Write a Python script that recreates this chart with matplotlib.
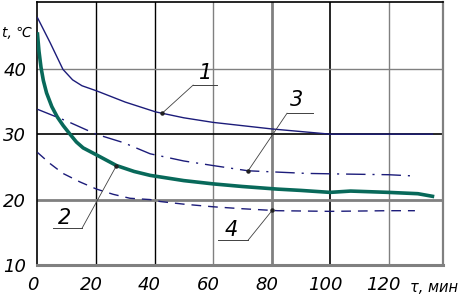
import numpy as np
import matplotlib
matplotlib.use("Agg")
import matplotlib.pyplot as plt
from matplotlib import transforms

# ---- data ----
t1 = [0, 4.3, 8.7, 12, 15.2, 20.3, 30, 40.4, 50, 60, 70, 80, 90, 100, 110, 120, 135]
v1 = [47.8, 44.0, 39.9, 38.3, 37.4, 36.6, 34.9, 33.4, 32.5, 31.8, 31.3, 30.8, 30.4, 30.0, 30.0, 30.0, 30.0]

t2 = [0, 0.5, 1.2, 2.0, 3.1, 4.9, 6.8, 8.8, 11.1, 13.3, 15.6, 20.3, 27, 33, 38.5, 50, 60, 70, 82, 90, 100, 107, 120, 130, 135]
v2 = [45.3, 42.7, 40.2, 38.2, 36.3, 34.2, 32.6, 31.3, 30.0, 28.8, 27.9, 26.8, 25.2, 24.3, 23.7, 22.9, 22.4, 22.0, 21.6, 21.4, 21.1, 21.3, 21.1, 20.9, 20.5]

t3 = [0, 10, 20, 29.4, 38.5, 50, 60, 72, 82, 92, 105, 120, 129]
v3 = [33.8, 32.0, 30.0, 28.7, 27.0, 25.9, 25.2, 24.4, 24.2, 24.0, 23.9, 23.8, 23.6]

t4 = [0, 4.3, 8.7, 14.5, 20.2, 25.9, 31.6, 38.5, 42, 50, 60, 70, 82, 100, 120, 129]
v4 = [27.2, 25.5, 24.0, 22.7, 21.6, 20.8, 20.2, 20.0, 19.7, 19.3, 18.9, 18.6, 18.3, 18.2, 18.3, 18.3]

x_ticks = [0, 20, 40, 60, 80, 100, 120]
y_ticks = [10, 20, 30, 40]
curve_labels = ["1", "2", "3", "4"]

NAVY = "#1c1c7a"
TEAL = "#08695a"

fig = plt.figure(figsize=(4.6, 3.0), dpi=100)
ax = fig.add_axes([37.5 / 460, 35 / 300, (443 - 37.5) / 460, (265 - 2) / 300])
ax.set_xlim(0, 138.6)
ax.set_ylim(10, 50.2)

# grid lines (mixed black / gray as in the drawing)
vcols = {20: ("black", 1.0), 40: ("black", 1.0), 60: ("#808080", 1.0),
         80: ("#808080", 2.0), 100: ("black", 1.2), 120: ("#808080", 1.0)}
for xv in x_ticks[1:]:
    c, w = vcols[xv]
    ax.axvline(xv, color=c, lw=w, zorder=1)
hcols = {20: ("#808080", 2.0), 30: ("black", 1.2), 40: ("#808080", 1.0)}
for yv in y_ticks[1:]:
    c, w = hcols[yv]
    ax.axhline(yv, color=c, lw=w, zorder=1)

for side, (c, w) in {"left": ("black", 1.2), "top": ("black", 1.2),
                     "right": ("#808080", 1.6), "bottom": ("#808080", 2.2)}.items():
    ax.spines[side].set_color(c)
    ax.spines[side].set_linewidth(w)

# curves
ax.plot(t1, v1, color=NAVY, lw=1.0, zorder=3)
ax.plot(t2, v2, color=TEAL, lw=2.6, zorder=3, solid_joinstyle="round")
ax.plot(t3, v3, color=NAVY, lw=1.0, dashes=(14, 5, 1.5, 5), zorder=3)
ax.plot(t4, v4, color=NAVY, lw=1.0, dashes=(7, 5), zorder=3)

# ticks
ax.set_xticks(x_ticks)
ax.set_yticks(y_ticks)
ax.tick_params(length=0, pad=8)
ax.set_xticklabels([str(v) for v in x_ticks])
ax.set_yticklabels([str(v) for v in y_ticks])
offset = transforms.ScaledTranslation(-5 / 100, 0, fig.dpi_scale_trans)
for lab in ax.get_xticklabels():
    lab.set_fontsize(13)
    lab.set_fontstyle("italic")
    lab.set_transform(lab.get_transform() + offset)
for lab in ax.get_yticklabels():
    lab.set_fontsize(13)
    lab.set_fontstyle("italic")

fig.text(17 / 460, 1 - 33 / 300, "t, ℃", fontsize=10, style="italic",
         ha="center", va="center")
fig.text(434 / 460, 1 - 288 / 300, "τ, мин", fontsize=10.5, style="italic",
         ha="center", va="center")

# curve labels with leaders
def leader(label, tc, tv, text_xy, ul, anchor_at_left):
    px = float(np.interp(tc, tv[0], tv[1]))
    x0, x1, yu = ul
    ax.plot([x0, x1], [yu, yu], color="#404040", lw=0.7, zorder=4)
    ax_ = x0 if anchor_at_left else x1
    ax.plot([ax_, tc], [yu, px], color="#404040", lw=0.6, zorder=4)
    ax.plot([tc], [px], marker="o", ms=2.2, color="#202020", zorder=5)
    ax.text(text_xy[0], text_xy[1], label, fontsize=15, style="italic",
            ha="center", va="center", zorder=5)

leader(curve_labels[0], 42.6, (t1, v1), (57.3, 39.4), (53.2, 61.4, 37.5), True)
leader(curve_labels[1], 27.0, (t2, v2), (9.4, 17.2), (5.3, 15.2, 15.6), False)
leader(curve_labels[2], 72.0, (t3, v3), (88.7, 35.2), (85.3, 94.2, 33.2), True)
leader(curve_labels[3], 80.2, (t4, v4), (66.2, 15.3), (61.7, 72.0, 13.8), False)

fig.savefig("out.png", dpi=100)
